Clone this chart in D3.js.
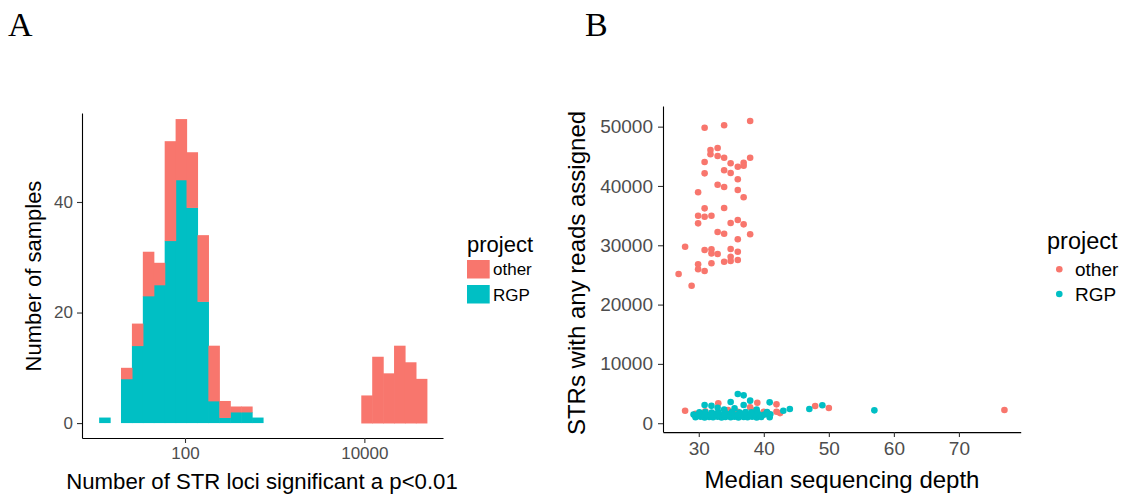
<!DOCTYPE html>
<html>
<head>
<meta charset="utf-8">
<script src="https://cdn.jsdelivr.net/npm/d3@7"></script>
<style>
  body { margin: 0; background: #fff; }
  svg { display: block; font-family: "Liberation Sans", Arial, sans-serif; }
</style>
</head>
<body>
<svg width="1125" height="495"></svg>
<script>
// ---- panel A: histogram (log10 bins, 30 bins) ----
var binStartLog = 1.0425;
var binWidthLog = 0.1218;
var rgpCounts   = [1,0,8,14,23,25,33,44,39,22,4,1,2,2,1, 0,0,0,0,0,0,0,0,0, 0,0,0,0,0,0];
var otherCounts = [0,0,2,4,8,4,18,11,10,12,10,3,1,1,0, 0,0,0,0,0,0,0,0,0, 5,12,9,14,11,8];
var histYTicks = [0, 20, 40];
var histXTicks = [100, 10000];

// ---- panel B: scatter ----
var otherDepth = [30.9,33.9,37.9,31.8,32.9,31.8,32.9,33.9,30.9,34.9,36.0,36.9,36.9,37.9,33.9,34.9,30.9,36.0,32.9,33.9,29.9,36.0,36.9,
                  30.9,33.9,29.9,30.9,31.95,29.9,34.9,36.0,36.9,32.9,33.9,37.9,36.0,27.9,30.9,31.95,31.95,32.9,34.9,36.0,34.9,36.0,33.9,34.9,31.95,29.9,29.9,30.9,26.9,28.9,
                  27.9,33.0,39.0,41.95,37.9,36.0,36.0,40.0,41.95,47.9,50.0,77.0,31.0,34.5,29.5,38.5,42.5];
var otherStrs  = [49820,50230,50950,46060,46400,45340,45050,44760,44040,43820,43250,43920,43420,44760,42640,42180,42130,41120,40210,39820,38930,39320,38090,
                  36230,36280,34990,34820,34990,33700,33750,34260,33530,32240,31950,31850,31010,29760,29200,29320,28640,28530,29370,28920,28070,27520,27230,27350,26960,26790,25950,25660,25160,23180,
                  2110,3350,3460,3180,2680,1940,1500,1940,1940,2900,2560,2230,2000,2200,1600,2100,1700];
var rgpDepth = [29.5,30.3,30.9,31.6,32.2,32.9,33.5,34.1,34.9,35.5,36.1,36.9,37.5,38.2,38.9,39.6,40.9,
                29.2,29.9,30.6,31.2,31.9,32.5,33.2,33.9,34.6,35.2,36.0,36.6,37.3,37.9,38.6,39.3,40.1,41.0,
                30.1,31.0,32.0,33.0,34.0,35.1,36.3,37.2,38.1,39.0,40.5,
                30.9,31.95,34.9,36.0,36.9,37.9,36.9,40.9,43.0,44.0,47.0,49.0,57.0,32.9,33.9,35.5,38.9];
var rgpStrs  = [1000,1100,950,1050,1000,1100,950,1050,1000,1100,950,1050,1000,1100,950,1050,1000,
                1450,1400,1500,1400,1450,1500,1400,1450,1500,1400,1450,1500,1400,1450,1500,1400,1450,1500,
                1850,1900,1800,1900,1850,1900,1800,1900,1850,1800,1900,
                3070,2930,3570,4920,4700,3800,3070,3520,2110,2390,2390,3020,2170,2600,2300,2500,2300];
var scatYTicks = [0, 10000, 20000, 30000, 40000, 50000];
var scatXTicks = [30, 40, 50, 60, 70];

var colOther = '#F8766D';
var colRGP = '#00BFC4';

var svg = d3.select('svg');
svg.append('rect').attr('width', 1125).attr('height', 495).attr('fill', '#fff');

function styleAxis(g, size) {
    g.select('.domain').attr('stroke', '#000').attr('stroke-width', 1.1);
    g.selectAll('.tick line').attr('stroke', '#333').attr('stroke-width', 1.1);
    g.selectAll('.tick text')
        .attr('fill', '#4d4d4d')
        .attr('font-size', size)
        .attr('font-family', '"Liberation Sans", Arial, sans-serif');
}

// ================= panel A =================
var xA = d3.scaleLog().domain([Math.pow(10, 0.8513), Math.pow(10, 4.877)]).range([82, 443]);
var yA = d3.scaleLinear().domain([-2.7, 56.1]).range([438, 113]);

var bins = rgpCounts.map(function (c, i) {
    var lo = Math.pow(10, binStartLog + i * binWidthLog);
    var hi = Math.pow(10, binStartLog + (i + 1) * binWidthLog);
    return { lo: lo, hi: hi, rgp: c, other: otherCounts[i] };
});

var gA = svg.append('g');

gA.selectAll('rect.rgp')
    .data(bins.filter(function (d) { return d.rgp > 0; }))
    .enter()
    .append('rect')
    .attr('class', 'rgp')
    .attr('x', function (d) { return xA(d.lo); })
    .attr('width', function (d) { return xA(d.hi) - xA(d.lo) + 0.6; })
    .attr('y', function (d) { return yA(d.rgp); })
    .attr('height', function (d) { return yA(0) - yA(d.rgp); })
    .attr('fill', colRGP);

gA.selectAll('rect.other')
    .data(bins.filter(function (d) { return d.other > 0; }))
    .enter()
    .append('rect')
    .attr('class', 'other')
    .attr('x', function (d) { return xA(d.lo); })
    .attr('width', function (d) { return xA(d.hi) - xA(d.lo) + 0.6; })
    .attr('y', function (d) { return yA(d.rgp + d.other); })
    .attr('height', function (d) { return yA(d.rgp) - yA(d.rgp + d.other) + 0.4; })
    .attr('fill', colOther);

gA.append('g')
    .attr('transform', 'translate(0,438)')
    .call(d3.axisBottom(xA).tickValues(histXTicks).tickFormat(d3.format('d')).tickSize(5).tickPadding(4).tickSizeOuter(0))
    .call(styleAxis, 17);

gA.append('g')
    .attr('transform', 'translate(82,0)')
    .call(d3.axisLeft(yA).tickValues(histYTicks).tickSize(5).tickPadding(4).tickSizeOuter(0))
    .call(styleAxis, 17);

gA.append('text')
    .attr('x', 262)
    .attr('y', 489)
    .attr('text-anchor', 'middle')
    .attr('font-size', 22.2)
    .text('Number of STR loci significant a p<0.01');

gA.append('text')
    .attr('transform', 'translate(41,276) rotate(-90)')
    .attr('text-anchor', 'middle')
    .attr('font-size', 22)
    .text('Number of samples');

// legend A
gA.append('text').attr('x', 467).attr('y', 252).attr('font-size', 22).text('project');
gA.append('rect').attr('x', 467).attr('y', 260).attr('width', 22.7).attr('height', 18.5).attr('fill', colOther);
gA.append('rect').attr('x', 467).attr('y', 285).attr('width', 22.7).attr('height', 18.5).attr('fill', colRGP);
gA.append('text').attr('x', 493).attr('y', 275).attr('font-size', 17).text('other');
gA.append('text').attr('x', 493).attr('y', 301).attr('font-size', 17).text('RGP');

// ================= panel B =================
var xB = d3.scaleLinear().domain([24.5, 79.5]).range([663, 1020.7]);
var yB = d3.scaleLinear().domain([-1500, 53500]).range([432.1, 105.9]);

var gB = svg.append('g');

var otherPts = otherDepth.map(function (d, i) { return { x: d, y: otherStrs[i] }; });
var rgpPts = rgpDepth.map(function (d, i) { return { x: d, y: rgpStrs[i] }; });

gB.selectAll('circle.other')
    .data(otherPts)
    .enter()
    .append('circle')
    .attr('class', 'other')
    .attr('cx', function (d) { return xB(d.x); })
    .attr('cy', function (d) { return yB(d.y); })
    .attr('r', 3.3)
    .attr('fill', colOther);

gB.selectAll('circle.rgp')
    .data(rgpPts)
    .enter()
    .append('circle')
    .attr('class', 'rgp')
    .attr('cx', function (d) { return xB(d.x); })
    .attr('cy', function (d) { return yB(d.y); })
    .attr('r', 3.3)
    .attr('fill', colRGP);

gB.append('g')
    .attr('transform', 'translate(0,432.1)')
    .call(d3.axisBottom(xB).tickValues(scatXTicks).tickSize(5).tickPadding(4).tickSizeOuter(0))
    .call(styleAxis, 19);

gB.append('g')
    .attr('transform', 'translate(663,0)')
    .call(d3.axisLeft(yB).tickValues(scatYTicks).tickFormat(d3.format('d')).tickSize(5).tickPadding(5).tickSizeOuter(0))
    .call(styleAxis, 19);

gB.append('text')
    .attr('x', 842)
    .attr('y', 488)
    .attr('text-anchor', 'middle')
    .attr('font-size', 24)
    .text('Median sequencing depth');

gB.append('text')
    .attr('transform', 'translate(585,273) rotate(-90)')
    .attr('text-anchor', 'middle')
    .attr('font-size', 24)
    .text('STRs with any reads assigned');

// legend B
gB.append('text').attr('x', 1047).attr('y', 249).attr('font-size', 23.5).text('project');
gB.append('circle').attr('cx', 1059.3).attr('cy', 269.3).attr('r', 3.3).attr('fill', colOther);
gB.append('circle').attr('cx', 1059.3).attr('cy', 294).attr('r', 3.3).attr('fill', colRGP);
gB.append('text').attr('x', 1075).attr('y', 276).attr('font-size', 19).text('other');
gB.append('text').attr('x', 1075).attr('y', 301).attr('font-size', 19).text('RGP');

// panel letters
svg.append('text').attr('x', 8).attr('y', 36).attr('font-size', 34)
    .attr('font-family', '"Liberation Serif", "DejaVu Serif", serif').text('A');
svg.append('text').attr('x', 585).attr('y', 36).attr('font-size', 34)
    .attr('font-family', '"Liberation Serif", "DejaVu Serif", serif').text('B');
</script>
</body>
</html>
